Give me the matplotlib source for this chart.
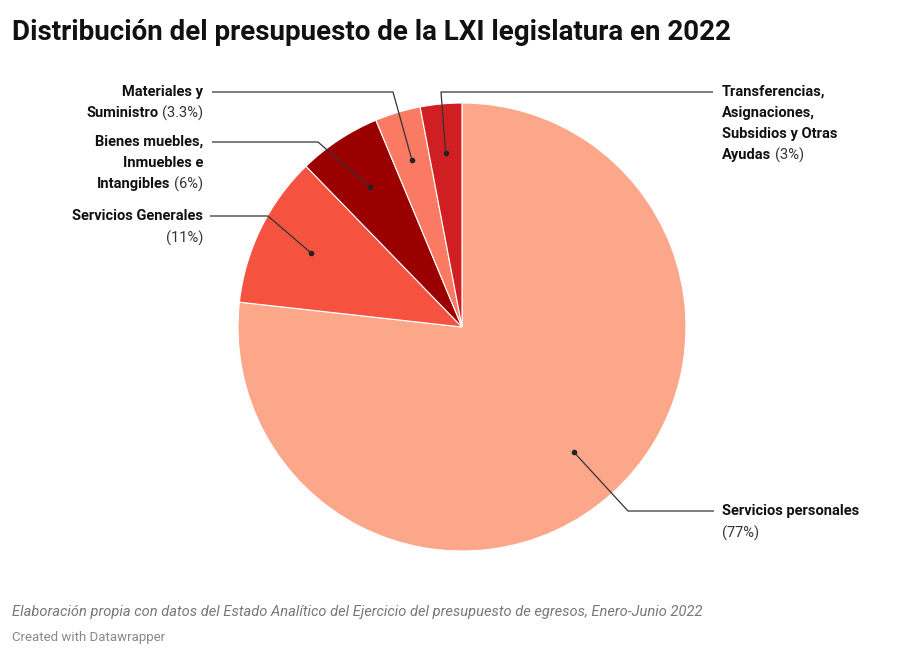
import matplotlib
matplotlib.use("Agg")
import matplotlib.pyplot as plt
import numpy as np

categories = ["Servicios personales", "Servicios Generales", "Bienes muebles, Inmuebles e Intangibles",
              "Materiales y Suministro", "Transferencias, Asignaciones, Subsidios y Otras Ayudas"]
values = [77, 11, 6, 3.3, 3]
pct_labels = ["(77%)", "(11%)", "(6%)", "(3.3%)", "(3%)"]
colors = ["#fca68a", "#f5523f", "#9b0000", "#fb7a63", "#d01f22"]

plt.rcParams['font.family'] = ['Roboto', 'DejaVu Sans']
W, H = 924, 666
fig = plt.figure(figsize=(W/100, H/100), dpi=100)
ax = fig.add_axes([0, 0, 1, 1])
cx, cy, R = 462, H-327, 224
wedges, _ = ax.pie(values, colors=colors, startangle=90, counterclock=False,
                   center=(cx, cy), radius=R, wedgeprops=dict(edgecolor="white", linewidth=0.8))
ax.set_xlim(0, W); ax.set_ylim(0, H); ax.set_aspect('equal'); ax.axis('off')

# anchor dots at 0.75R along mid-angles
tot = sum(values)
anchors = []
a = 90.0
for v in values:
    span = 360*v/tot
    mid = np.deg2rad(a - span/2)
    r = 0.75*R if v > 5 else 0.78*R
    anchors.append((cx + r*np.cos(mid), cy + r*np.sin(mid)))
    a -= span

fs = 10.5
r_ = fig.canvas.get_renderer()
def wid(s, weight):
    t = fig.text(0, 0, s, fontsize=fs, fontweight=weight)
    w = t.get_window_extent(r_).width
    t.remove()
    return w

def line_text(x, y, bold, normal, ha):
    y = H - y
    if ha == "left":
        ax.text(x, y, bold, fontsize=fs, fontweight="bold", ha="left", va="center", color="#111")
        if normal:
            ax.text(x + wid(bold + " ", "bold"), y, normal, fontsize=fs, ha="left", va="center", color="#333")
    else:
        if normal:
            ax.text(x, y, normal, fontsize=fs, ha="right", va="center", color="#333")
            x -= wid(" " + normal, "normal")
        ax.text(x, y, bold, fontsize=fs, fontweight="bold", ha="right", va="center", color="#111")

def leader(i, pts):
    ax_ = anchors[i]
    xs = [ax_[0]] + [p[0] for p in pts]
    ys = [ax_[1]] + [H - p[1] for p in pts]
    ax.plot(xs, ys, color="#333", lw=0.9, solid_capstyle="butt")
    ax.plot(*ax_, 'o', color="#222", ms=3)

# Servicios personales
leader(0, [(628, 511), (714, 511)])
line_text(722, 511, "Servicios personales", "", "left")
line_text(722, 533, "", "", "left")
ax.text(722, H-533, pct_labels[0], fontsize=fs, ha="left", va="center", color="#333")
# Servicios Generales
leader(1, [(268, 216), (210, 216)])
line_text(203, 216, "Servicios Generales", "", "right")
ax.text(203, H-238, pct_labels[1], fontsize=fs, ha="right", va="center", color="#333")
# Bienes
leader(2, [(318, 142), (212, 142)])
line_text(203, 142, "Bienes muebles,", "", "right")
line_text(203, 163, "Inmuebles e", "", "right")
line_text(203, 184, "Intangibles", pct_labels[2], "right")
# Materiales
leader(3, [(393, 92), (212, 92)])
line_text(203, 92, "Materiales y", "", "right")
line_text(203, 113, "Suministro", pct_labels[3], "right")
# Transferencias
leader(4, [(441, 92), (713, 92)])
line_text(722, 92, "Transferencias,", "", "left")
line_text(722, 113, "Asignaciones,", "", "left")
line_text(722, 134, "Subsidios y Otras", "", "left")
line_text(722, 155, "Ayudas", pct_labels[4], "left")

fig.text(12/W, 1-33/H, "Distribución del presupuesto de la LXI legislatura en 2022",
         fontsize=20, fontweight="bold", va="center", color="#111")
fig.text(12/W, 1-612/H, "Elaboración propia con datos del Estado Analítico del Ejercicio del presupuesto de egresos, Enero-Junio 2022",
         fontsize=10.5, fontstyle="italic", va="center", color="#777")
fig.text(12/W, 1-638/H, "Created with Datawrapper", fontsize=9.5, va="center", color="#888")
fig.savefig("out.png", dpi=100)
